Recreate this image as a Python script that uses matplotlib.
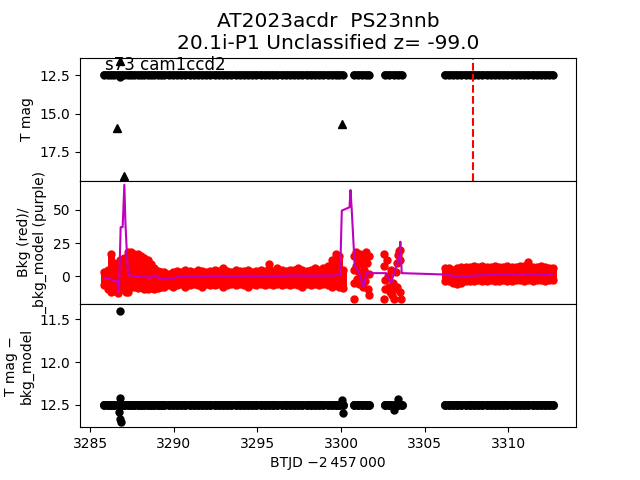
import matplotlib
matplotlib.use("Agg")
import matplotlib.pyplot as plt

# cadence times (BTJD - 2457000), four segments
t_seg1 = [3285.85, 3286.05, 3286.25, 3286.45, 3286.65, 3286.85, 3287.05, 3287.25,
          3287.45, 3287.65, 3287.85, 3288.05, 3288.25, 3288.45, 3288.65, 3288.85,
          3289.05, 3289.25, 3289.45, 3289.7, 3289.95, 3290.2, 3290.45, 3290.7,
          3290.95, 3291.2, 3291.45, 3291.7, 3291.95, 3292.2, 3292.45, 3292.7,
          3292.95, 3293.2, 3293.45, 3293.7, 3293.95, 3294.2, 3294.45, 3294.7,
          3294.95, 3295.2, 3295.45, 3295.7, 3295.95, 3296.2, 3296.45, 3296.7,
          3296.95, 3297.2, 3297.45, 3297.7, 3297.95, 3298.2, 3298.45, 3298.7,
          3298.95, 3299.2, 3299.45, 3299.7, 3299.9, 3300.1]
t_seg2 = [3300.75, 3301.0, 3301.25, 3301.5, 3301.7]
t_seg3 = [3302.65, 3302.9, 3303.15, 3303.4, 3303.65]
t_seg4 = [3306.2, 3306.45, 3306.7, 3306.95, 3307.2, 3307.45, 3307.7, 3307.95,
          3308.2, 3308.45, 3308.7, 3308.95, 3309.2, 3309.45, 3309.7, 3309.95,
          3310.2, 3310.45, 3310.7, 3310.95, 3311.2, 3311.45, 3311.7, 3311.95,
          3312.2, 3312.45, 3312.7]
tmag_floor = 12.5

# background spread (upper / lower envelope of the red points), seg1 and seg4
bkg_hi1 = [3, 5, 17, 10, 6, 12, 14, 18, 18, 17, 17, 15, 14, 12, 9, 6,
           4, 3, 3, 2, 3, 4, 3, 5, 4, 3, 5, 4, 3, 4, 5, 4,
           6, 4, 3, 5, 4, 4, 5, 3, 4, 5, 4, 9, 4, 6, 5, 4,
           5, 5, 6, 5, 4, 5, 6, 5, 6, 8, 12, 17, 15, 5]
bkg_lo1 = [-7, -10, -12, -11, -13, -4, -10, -12, -8, -8, -9, -8, -10, -10, -9, -10,
           -9, -8, -8, -7, -8, -7, -6, -8, -7, -6, -7, -8, -6, -7, -7, -6,
           -8, -7, -6, -7, -6, -7, -8, -6, -7, -6, -7, -6, -7, -6, -7, -6,
           -7, -6, -7, -8, -6, -7, -6, -7, -6, -7, -8, -7, -8, -9]
bkg_hi4 = [6, 6, 5, 6, 7, 7, 7, 8, 7, 8, 7, 7, 8, 7, 7, 8,
           7, 7, 8, 8, 11, 7, 7, 8, 7, 6, 6]
bkg_lo4 = [-4, -4, -5, -6, -5, -4, -4, -4, -3, -4, -4, -3, -4, -4, -3, -4,
           -4, -3, -3, -4, -3, -4, -3, -3, -4, -3, -3]

# scattered red points (short segments and outliers)
bkg_pts_t = [3286.8, 3287.15,
             3300.75, 3300.75, 3300.75, 3300.8, 3300.9, 3300.9, 3300.95, 3301.0,
             3301.05, 3301.1, 3301.15, 3301.2, 3301.25, 3301.3, 3301.35, 3301.4,
             3301.45, 3301.5, 3301.55, 3301.6, 3301.65, 3301.7, 3301.7,
             3302.6, 3302.6, 3302.65, 3302.65, 3302.6, 3302.75, 3302.8, 3302.85,
             3302.95, 3303.0, 3303.05, 3303.1, 3303.15, 3303.2, 3303.3, 3303.35,
             3303.35, 3303.4, 3303.45, 3303.5, 3303.55, 3303.5, 3303.6]
bkg_pts_v = [12, -12,
             15, 5, -5, -17, 18, 8, -2, 12,
             3, -6, 17, 9, 0, -8, 14, 5,
             -4, 18, 10, -10, 2, 15, -14,
             17, 8, -3, -10, -17, 12, 0, -8,
             -12, 5, -14, -5, -17, -10, 3, 10,
             -8, 16, 19, 12, 20, -12, -17]

# bkg_model (purple line)
model_t = [3285.84, 3286.19, 3286.61, 3286.73, 3286.83, 3286.95, 3287.05, 3287.12,
           3287.27, 3288.0, 3288.6, 3288.9, 3289.2, 3289.8, 3290.4, 3291.5,
           3292.5, 3293.5, 3294.5, 3295.5, 3296.5, 3297.5, 3298.5, 3299.5,
           3299.95, 3300.05, 3300.51, 3300.57, 3300.65, 3300.82, 3301.1, 3301.35,
           3301.51, 3302.7, 3303.0, 3303.13, 3303.49, 3303.55, 3303.63, 3306.08,
           3306.6, 3307.2, 3308.0, 3309.0, 3310.0, 3310.5, 3311.0, 3312.0, 3312.68]
model_v = [-0.8, -2.3, -3.8, -12, 37, 37, 69, 38.6,
           0.8, -0.5, -1.0, 0.8, -2.3, -1.5, -0.5, 0.0,
           0.3, 0.0, 0.3, 0.0, 0.3, 0.5, 0.3, 0.5,
           1.0, 49.5, 52, 65, 48.7, 8.3, 2.3, -8.3,
           2.3, 2.3, -5.3, 0.8, 14.6, 26, 2.3, 1.3,
           0.5, -0.5, 0.5, 1.0, 1.5, 0.8, 1.3, 0.8, 1.0]

# upper limits (triangles) in the top panel
lim_t = [3286.59, 3286.8, 3287.05, 3300.05]
lim_v = [15.92, 11.55, 19.07, 15.70]
band_out_t = [3286.8]
band_out_v = [12.62]

# outliers in T mag - bkg_model
diff_out_t = [3286.8, 3286.8, 3286.85, 3286.8, 3286.75, 3300.05, 3300.1, 3303.4, 3303.2]
diff_out_v = [11.40, 12.66, 12.70, 12.42, 12.58, 12.44, 12.59, 12.43, 12.56]

t_discovery = 3307.9

segments = [t_seg1, t_seg2, t_seg3, t_seg4]

fig, (ax1, ax2, ax3) = plt.subplots(3, 1, sharex=True, figsize=(6.4, 4.8), dpi=100)
plt.subplots_adjust(hspace=0)

# top: T mag
for seg in segments:
    ax1.plot(seg, [tmag_floor] * len(seg), color='k', lw=5.5, solid_capstyle='round')
    ax1.plot(seg, [tmag_floor] * len(seg), 'ko', ms=5)
ax1.plot(band_out_t, band_out_v, 'ko', ms=5)
ax1.plot(lim_t, lim_v, 'k^', ms=6)
ax1.axvline(t_discovery, color='r', ls='--')
ax1.set_ylim(19.4, 11.34)
ax1.set_ylabel("T mag")
ax1.text(0.05, 0.9, "s73 cam1ccd2", transform=ax1.transAxes, fontsize=12)
ax1.set_title("AT2023acdr  PS23nnb\n20.1i-P1 Unclassified z= -99.0", fontsize=14.5)

# middle: background
for t, lo, hi in [(t_seg1, bkg_lo1, bkg_hi1), (t_seg4, bkg_lo4, bkg_hi4)]:
    ax2.vlines(t, lo, hi, color='r', lw=5)
    ax2.fill_between(t, lo, hi, color='r', lw=0)
    ax2.plot(t, hi, 'ro', ms=5)
    ax2.plot(t, lo, 'ro', ms=5)
ax2.plot(bkg_pts_t, bkg_pts_v, 'ro', ms=5)
ax2.plot(model_t, model_v, color='m', lw=1.5)
ax2.set_ylim(-21, 72)
ax2.set_ylabel("Bkg (red)/\n_bkg_model (purple)")

# bottom: T mag - bkg_model
for seg in segments:
    ax3.plot(seg, [tmag_floor] * len(seg), color='k', lw=5.5, solid_capstyle='round')
    ax3.plot(seg, [tmag_floor] * len(seg), 'ko', ms=5.5)
ax3.plot(diff_out_t, diff_out_v, 'ko', ms=5)
ax3.set_ylim(12.76, 11.32)
ax3.set_ylabel("T mag \u2212\nbkg_model")
ax3.set_xlim(3284.4, 3314.05)
ax3.set_xlabel("BTJD \u22122\u2009457\u2009000")

plt.savefig("out.png")
